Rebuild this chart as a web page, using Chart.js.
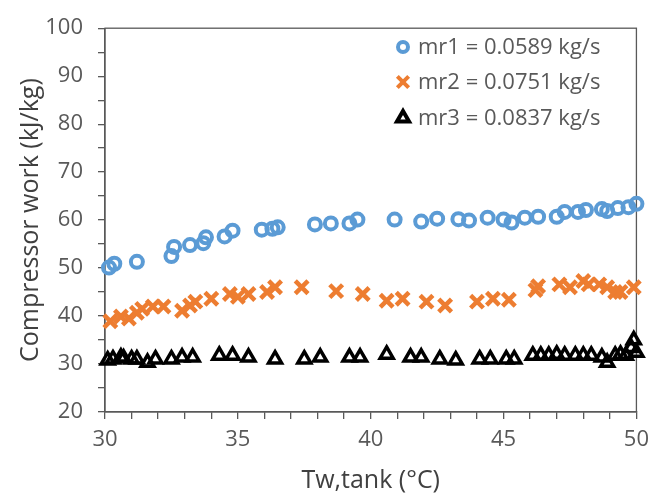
<!DOCTYPE html>
<html>
<head>
<meta charset="utf-8">
<script src="https://cdn.jsdelivr.net/npm/chart.js@4.4.1/dist/chart.umd.min.js"></script>
<style>
    html, body { margin: 0; padding: 0; background: #fff; }
    #wrap { width: 657px; height: 498px; }
</style>
</head>
<body>
<div id="wrap"><canvas id="chart" width="657" height="498"></canvas></div>
<script>
var seriesLabels = ['mr1 = 0.0589 kg/s', 'mr2 = 0.0751 kg/s', 'mr3 = 0.0837 kg/s'];

var mr1X = [30.15, 30.35, 31.2, 32.5, 32.6, 33.2, 33.7, 33.8, 34.5, 34.8, 35.9, 36.3, 36.5, 37.9, 38.5, 39.2, 39.5, 40.9,
    41.9, 42.5, 43.3, 43.7, 44.4, 45.0, 45.3, 45.8, 46.3, 47.0, 47.3, 47.8, 48.1, 48.7, 48.9, 49.3, 49.7, 50.0];
var mr1Y = [50.1, 50.9, 51.3, 52.5, 54.4, 54.8, 55.2, 56.4, 56.6, 57.8, 58.0, 58.2, 58.5, 59.1, 59.3, 59.3, 60.1, 60.1,
    59.7, 60.3, 60.2, 59.9, 60.5, 60.1, 59.5, 60.5, 60.7, 60.7, 61.7, 61.7, 62.1, 62.3, 61.9, 62.5, 62.7, 63.4];

var mr2X = [30.2, 30.6, 30.9, 31.2, 31.4, 31.8, 32.2, 32.9, 33.2, 33.4, 34.0, 34.7, 35.0, 35.4, 36.1, 36.4, 37.4, 38.7,
    39.7, 40.6, 41.2, 42.1, 42.8, 44.0, 44.6, 45.2, 46.2, 46.3, 47.1, 47.5, 48.0, 48.2, 48.6, 48.9, 49.2, 49.4, 49.9];
var mr2Y = [38.9, 39.9, 39.5, 40.7, 41.5, 42.0, 42.0, 41.1, 42.2, 43.0, 43.6, 44.6, 44.0, 44.6, 45.0, 46.0, 46.0, 45.2,
    44.6, 43.2, 43.6, 43.0, 42.2, 43.0, 43.6, 43.4, 45.4, 46.2, 46.6, 46.0, 47.3, 46.6, 46.6, 46.0, 45.0, 45.0, 46.0];

var mr3X = [30.1, 30.3, 30.6, 30.7, 31.0, 31.2, 31.6, 31.9, 32.5, 32.9, 33.3, 34.3, 34.8, 35.4, 36.4, 37.5, 38.1, 39.2,
    39.6, 40.6, 41.5, 41.9, 42.6, 43.2, 44.1, 44.5, 45.1, 45.4, 46.1, 46.4, 46.7, 47.0, 47.3, 47.7, 48.0, 48.3, 48.7,
    48.9, 49.2, 49.4, 49.6, 49.8, 49.9, 50.0];
var mr3Y = [30.8, 31.0, 31.4, 31.2, 31.0, 31.0, 30.3, 31.0, 31.0, 31.4, 31.4, 31.8, 31.8, 31.4, 31.0, 31.0, 31.4, 31.4,
    31.4, 32.0, 31.4, 31.4, 31.0, 30.8, 31.0, 31.0, 31.0, 31.0, 31.8, 31.8, 31.8, 32.0, 31.8, 31.8, 31.8, 31.8, 31.4,
    30.3, 31.8, 32.0, 31.8, 33.4, 35.0, 32.4];

var xMin = 30, xMax = 50, xStep = 1, xLabelEvery = 5;
var yMin = 20, yMax = 100, yStep = 5, yLabelEvery = 10;
var xTitle = 'Tw,tank (\u00B0C)';
var yTitle = 'Compressor work (kJ/kg)';

(function () {
    'use strict';

    var FONT = '"Open Sans", "Noto Sans", sans-serif';
    var AXIS = '#595959';
    var TEXT = '#595959';
    var TITLE = '#404040';
    var BLUE = '#5B9BD5';
    var ORANGE = '#ED7D31';
    var BLACK = '#000000';

    function pairs(xs, ys) {
        return xs.map(function (x, i) {
            return { x: x, y: ys[i] };
        });
    }

    function drawMarker(ctx, style, x, y, r, color, w) {
        ctx.save();
        ctx.strokeStyle = color;
        ctx.lineWidth = w;
        ctx.beginPath();
        if (style === 'circle') {
            ctx.arc(x, y, r, 0, Math.PI * 2);
        } else if (style === 'crossRot') {
            var d = r * Math.SQRT1_2;
            ctx.moveTo(x - d, y - d);
            ctx.lineTo(x + d, y + d);
            ctx.moveTo(x - d, y + d);
            ctx.lineTo(x + d, y - d);
        } else {
            var a = -Math.PI / 2;
            ctx.moveTo(x + Math.cos(a) * r, y + Math.sin(a) * r);
            a += Math.PI * 2 / 3;
            ctx.lineTo(x + Math.cos(a) * r, y + Math.sin(a) * r);
            a += Math.PI * 2 / 3;
            ctx.lineTo(x + Math.cos(a) * r, y + Math.sin(a) * r);
            ctx.closePath();
        }
        ctx.stroke();
        ctx.restore();
    }

    // box round the plot area, drawn under the points
    var framePlugin = {
        id: 'frame',
        beforeDatasetsDraw: function (chart) {
            var a = chart.chartArea;
            var ctx = chart.ctx;
            ctx.save();
            ctx.strokeStyle = AXIS;
            ctx.lineWidth = 1.3;
            ctx.strokeRect(a.left, a.top, a.right - a.left, a.bottom - a.top);
            ctx.restore();
        },
    };

    // legend sits inside the plot, top right
    var legendPlugin = {
        id: 'insideLegend',
        afterDatasetsDraw: function (chart) {
            var ctx = chart.ctx;
            var rows = [47, 82, 118];
            var mx = 403;
            var tx = 418;
            ctx.save();
            ctx.font = '22px ' + FONT;
            ctx.fillStyle = TEXT;
            ctx.textBaseline = 'middle';
            ctx.textAlign = 'left';
            chart.data.datasets.forEach(function (ds, i) {
                var size = ds.pointStyle === 'circle' ? 5 : (ds.pointStyle === 'crossRot' ? 8 : 7);
                drawMarker(ctx, ds.pointStyle, mx, rows[i], size, ds.borderColor, 4);
                ctx.fillText(ds.label, tx, rows[i] + 1);
            });
            ctx.restore();
        },
    };

    function tickCb(every) {
        return function (v) {
            return v % every === 0 ? String(v) : '';
        };
    }

    new Chart(document.getElementById('chart').getContext('2d'), {
        type: 'scatter',
        data: {
            datasets: [
                {
                    label: seriesLabels[0],
                    data: pairs(mr1X, mr1Y),
                    pointStyle: 'circle',
                    pointRadius: 6,
                    borderWidth: 4,
                    borderColor: BLUE,
                    backgroundColor: 'rgba(0,0,0,0)',
                    clip: false,
                },
                {
                    label: seriesLabels[1],
                    data: pairs(mr2X, mr2Y),
                    pointStyle: 'crossRot',
                    pointRadius: 9,
                    borderWidth: 4.5,
                    borderColor: ORANGE,
                    backgroundColor: ORANGE,
                    clip: false,
                },
                {
                    label: seriesLabels[2],
                    data: pairs(mr3X, mr3Y),
                    pointStyle: 'triangle',
                    pointRadius: 7.5,
                    borderWidth: 3.5,
                    borderColor: BLACK,
                    backgroundColor: 'rgba(0,0,0,0)',
                    clip: false,
                },
            ],
        },
        options: {
            responsive: false,
            animation: false,
            devicePixelRatio: 1,
            layout: { padding: { top: 18, right: 18, left: 0, bottom: 0 } },
            plugins: {
                legend: { display: false },
                tooltip: { enabled: false },
            },
            scales: {
                x: {
                    type: 'linear',
                    min: xMin,
                    max: xMax,
                    afterFit: function (s) { s.height = 86; },
                    border: { display: true, color: AXIS, width: 1.3 },
                    grid: { drawOnChartArea: false, drawTicks: true, tickLength: 7, color: AXIS, lineWidth: 1.3 },
                    ticks: {
                        stepSize: xStep,
                        autoSkip: false,
                        maxRotation: 0,
                        padding: 8,
                        color: TEXT,
                        font: { family: FONT, size: 22 },
                        callback: tickCb(xLabelEvery),
                    },
                    title: {
                        display: true,
                        text: xTitle,
                        color: TITLE,
                        font: { family: FONT, size: 25 },
                        padding: { top: 0, bottom: 2 },
                    },
                },
                y: {
                    type: 'linear',
                    min: yMin,
                    max: yMax,
                    afterFit: function (s) { s.width = 105; },
                    border: { display: true, color: AXIS, width: 1.3 },
                    grid: { drawOnChartArea: false, drawTicks: true, tickLength: 7, color: AXIS, lineWidth: 1.3 },
                    ticks: {
                        stepSize: yStep,
                        autoSkip: false,
                        padding: 15,
                        color: TEXT,
                        font: { family: FONT, size: 22 },
                        callback: tickCb(yLabelEvery),
                    },
                    title: {
                        display: true,
                        text: yTitle,
                        color: TITLE,
                        font: { family: FONT, size: 25 },
                        padding: { top: 16, bottom: 0 },
                    },
                },
            },
        },
        plugins: [framePlugin, legendPlugin],
    });
})();
</script>
</body>
</html>
